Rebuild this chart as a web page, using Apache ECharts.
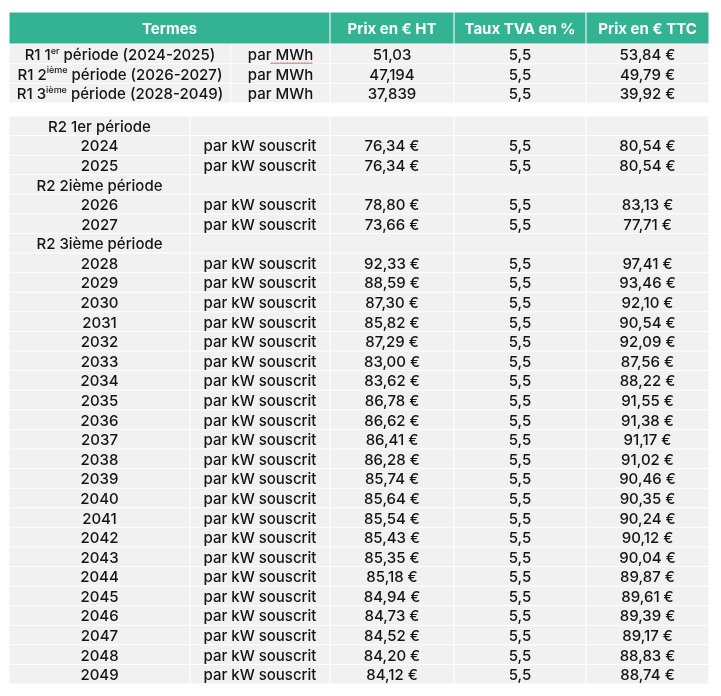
<!DOCTYPE html>
<html><head><meta charset="utf-8">
<script src="https://cdn.jsdelivr.net/npm/echarts@6/dist/echarts.min.js"></script>
<style>html,body{margin:0;padding:0;background:#fff}#c{width:721px;height:696px}</style>
</head><body><div id="c"></div>
<script>
// ---------- data ----------
const headerLabels = ['Termes', 'Prix en € HT', 'Taux TVA en %', 'Prix en € TTC'];

const r1Labels = [
  '{m|R1 1}{s|er}{m| période (2024-2025)}',
  '{m|R1 2}{s|ième}{m| période (2026-2027)}',
  '{m|R1 3}{s|ième}{m| période (2028-2049)}'
];
const r1Units = ['par MWh', 'par MWh', 'par MWh'];
const r1HT = [51.03, 47.194, 37.839];
const r1TVA = [5.5, 5.5, 5.5];
const r1TTC = [53.84, 49.79, 39.92];

const r2Labels = ['R2 1er période', '2024', '2025', 'R2 2ième période', '2026', '2027', 'R2 3ième période',
  '2028', '2029', '2030', '2031', '2032', '2033', '2034', '2035', '2036', '2037', '2038', '2039',
  '2040', '2041', '2042', '2043', '2044', '2045', '2046', '2047', '2048', '2049'];
const r2Units = ['', 'par kW souscrit', 'par kW souscrit', '', 'par kW souscrit', 'par kW souscrit', '',
  'par kW souscrit', 'par kW souscrit', 'par kW souscrit', 'par kW souscrit', 'par kW souscrit', 'par kW souscrit',
  'par kW souscrit', 'par kW souscrit', 'par kW souscrit', 'par kW souscrit', 'par kW souscrit', 'par kW souscrit',
  'par kW souscrit', 'par kW souscrit', 'par kW souscrit', 'par kW souscrit', 'par kW souscrit', 'par kW souscrit',
  'par kW souscrit', 'par kW souscrit', 'par kW souscrit', 'par kW souscrit'];
const r2HT = [null, 76.34, 76.34, null, 78.80, 73.66, null,
  92.33, 88.59, 87.30, 85.82, 87.29, 83.00, 83.62, 86.78, 86.62, 86.41, 86.28, 85.74,
  85.64, 85.54, 85.43, 85.35, 85.18, 84.94, 84.73, 84.52, 84.20, 84.12];
const r2TVA = [null, 5.5, 5.5, null, 5.5, 5.5, null,
  5.5, 5.5, 5.5, 5.5, 5.5, 5.5, 5.5, 5.5, 5.5, 5.5, 5.5, 5.5,
  5.5, 5.5, 5.5, 5.5, 5.5, 5.5, 5.5, 5.5, 5.5, 5.5];
const r2TTC = [null, 80.54, 80.54, null, 83.13, 77.71, null,
  97.41, 93.46, 92.10, 90.54, 92.09, 87.56, 88.22, 91.55, 91.38, 91.17, 91.02, 90.46,
  90.35, 90.24, 90.12, 90.04, 89.87, 89.61, 89.39, 89.17, 88.83, 88.74];

// ---------- formatting ----------
const FONT = 'Inter, "Noto Sans", sans-serif';
const TEAL = '#34b393';
const GREY = '#f1f1f1';
const INK = '#141414';
const fr = v => String(v).replace('.', ',');
const eur = v => v == null ? '' : v.toFixed(2).replace('.', ',') + ' €';
const pct = v => v == null ? '' : fr(v);

// layout (column edges in grid units, 0..700)
const headerEdges = [0, 321, 445, 577, 700];
const r1Edges = [0, 222, 321, 445, 577, 700];
const r2Edges = [0, 181, 321, 445, 577, 700];
const TEXT_DY = 1.5;

function makeRender(edges, cellsOf, fill, textStyle) {
  return function (params, api) {
    const i = api.value(1);
    const band = api.size([0, 1])[1];
    const cy = api.coord([0, i])[1];
    const y0 = cy - band / 2;
    const cells = cellsOf(i);
    const children = [];
    for (let k = 0; k < edges.length - 1; k++) {
      const xa = api.coord([edges[k], i])[0];
      const xb = api.coord([edges[k + 1], i])[0];
      children.push({
        type: 'rect',
        shape: { x: xa + 0.5, y: y0 + 0.5, width: xb - xa - 1, height: band - 1 },
        style: { fill: fill }
      });
      const t = cells[k];
      if (t) {
        const st = Object.assign({
          text: t, x: (xa + xb) / 2, y: cy + TEXT_DY,
          align: 'center', verticalAlign: 'middle'
        }, textStyle);
        children.push({ type: 'text', style: st });
      }
    }
    return { type: 'group', children: children };
  };
}

const textNormal = { fontSize: 15, fontFamily: FONT, fontWeight: 500, fill: INK };
const textHeader = { fontSize: 15, fontFamily: FONT, fontWeight: 'bold', fill: '#ffffff' };
const textRich = {
  fontSize: 15, fontFamily: FONT, fontWeight: 500, fill: INK,
  rich: {
    m: { fontSize: 15, fontFamily: FONT, fontWeight: 500, fill: INK, lineHeight: 18 },
    s: { fontSize: 9, fontFamily: FONT, fontWeight: 500, fill: INK, verticalAlign: 'top', lineHeight: 18 }
  }
};

const grids = [
  { left: 9, top: 12, width: 700, height: 32 },
  { left: 9, top: 44, width: 700, height: 59 },
  { left: 9, top: 116, width: 700, height: 568 }
];
const xAxes = grids.map((g, gi) => ({ type: 'value', gridIndex: gi, min: 0, max: 700, show: false }));
const yAxes = [
  { type: 'category', gridIndex: 0, data: ['header'], inverse: true, show: false },
  { type: 'category', gridIndex: 1, data: r1Labels, inverse: true, show: false },
  { type: 'category', gridIndex: 2, data: r2Labels, inverse: true, show: false }
];

const option = {
  animation: false,
  backgroundColor: '#ffffff',
  grid: grids,
  xAxis: xAxes,
  yAxis: yAxes,
  series: [
    {
      type: 'custom', xAxisIndex: 0, yAxisIndex: 0,
      data: [[0, 0]], encode: { x: 0, y: 1 },
      renderItem: makeRender(headerEdges, () => headerLabels, TEAL, textHeader)
    },
    {
      type: 'custom', xAxisIndex: 1, yAxisIndex: 1,
      data: r1Labels.map((_, i) => [0, i]), encode: { x: 0, y: 1 },
      renderItem: function (params, api) {
        const g = makeRender(r1Edges,
          i => [null, r1Units[i], fr(r1HT[i]), pct(r1TVA[i]), eur(r1TTC[i])],
          GREY, textNormal)(params, api);
        const i = api.value(1);
        const cy = api.coord([0, i])[1];
        const xa = api.coord([r1Edges[0], i])[0], xb = api.coord([r1Edges[1], i])[0];
        g.children.push({
          type: 'text',
          style: Object.assign({ text: r1Labels[i], x: (xa + xb) / 2, y: cy + TEXT_DY, align: 'center', verticalAlign: 'middle' }, textRich)
        });
        if (i === 0) {
          // spell-check squiggle under "MWh" as in the source screenshot
          const c2 = (api.coord([r1Edges[1], i])[0] + api.coord([r1Edges[2], i])[0]) / 2;
          const pts = [];
          const x0 = c2 - 10, x1 = c2 + 33, yb = cy + 9.5;
          for (let x = x0, k = 0; x <= x1; x += 1.5, k++) pts.push([x, yb + (k % 2 ? -0.8 : 0.8)]);
          g.children.push({ type: 'polyline', shape: { points: pts }, style: { stroke: '#d8423a', lineWidth: 0.9, fill: null } });
        }
        return g;
      }
    },
    {
      type: 'custom', xAxisIndex: 2, yAxisIndex: 2,
      data: r2Labels.map((_, i) => [0, i]), encode: { x: 0, y: 1 },
      renderItem: makeRender(r2Edges,
        i => [r2Labels[i], r2Units[i], eur(r2HT[i]), pct(r2TVA[i]), eur(r2TTC[i])],
        GREY, textNormal)
    }
  ]
};

const chart = echarts.init(document.getElementById('c'), null, { renderer: 'canvas' });
chart.setOption(option);
</script>
</body></html>
